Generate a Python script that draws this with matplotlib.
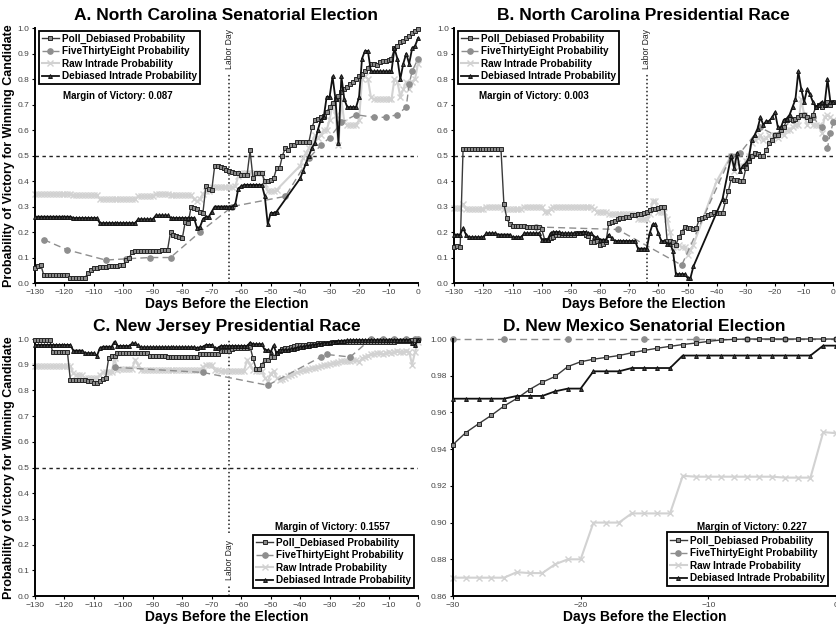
import numpy as np
import matplotlib.pyplot as plt

plt.rcParams['font.family'] = ['Liberation Sans', 'DejaVu Sans']

nan = np.nan
DAYS = np.arange(-130, 1)
D_DAYS = np.arange(-30, 1)
LABOR_DAY = -64

LABELS = ["Poll_Debiased Probability", "FiveThirtyEight Probability",
          "Raw Intrade Probability", "Debiased Intrade Probability"]

# ---- A. North Carolina Senate (daily, -130 .. 0) ----
A_POLL = [0.06, 0.065, 0.07, 0.03, 0.03, 0.03, 0.03, 0.03, 0.03, 0.03,
          0.03, 0.03, 0.02, 0.02, 0.02, 0.02, 0.02, 0.02, 0.04, 0.05,
          0.06, 0.06, 0.062, 0.063, 0.064, 0.065, 0.066, 0.067, 0.068, 0.07,
          0.072, 0.09, 0.10, 0.12, 0.125, 0.125, 0.125, 0.125, 0.125, 0.125,
          0.125, 0.125, 0.125, 0.128, 0.13, 0.13, 0.20, 0.19, 0.185, 0.18,
          0.175, 0.24, 0.235, 0.30, 0.295, 0.29, 0.28, 0.275, 0.38, 0.37,
          0.365, 0.46, 0.46, 0.455, 0.45, 0.445, 0.44, 0.435, 0.43, 0.43,
          0.425, 0.425, 0.425, 0.52, 0.41, 0.43, 0.43, 0.43, 0.40, 0.40,
          0.405, 0.41, 0.45, 0.45, 0.50, 0.53, 0.52, 0.54, 0.54, 0.555,
          0.555, 0.555, 0.555, 0.555, 0.61, 0.64, 0.645, 0.65, 0.655, 0.67,
          0.69, 0.705, 0.72, 0.735, 0.75, 0.76, 0.77, 0.78, 0.79, 0.80,
          0.81, 0.82, 0.83, 0.845, 0.86, 0.86, 0.855, 0.865, 0.87, 0.87,
          0.875, 0.88, 0.92, 0.93, 0.945, 0.95, 0.96, 0.97, 0.98, 0.99,
          0.995]
A_RAW = [0.35, 0.35, 0.35, 0.35, 0.35, 0.35, 0.35, 0.35, 0.35, 0.35,
         0.35, 0.35, 0.35, 0.345, 0.345, 0.345, 0.345, 0.345, 0.345, 0.345,
         0.345, 0.345, 0.33, 0.33, 0.33, 0.33, 0.33, 0.33, 0.33, 0.33,
         0.33, 0.33, 0.33, 0.33, 0.33, 0.34, 0.34, 0.34, 0.34, 0.34,
         0.34, 0.35, 0.35, 0.35, 0.35, 0.35, 0.345, 0.345, 0.345, 0.345,
         0.345, 0.345, 0.345, 0.345, 0.33, 0.32, 0.33, 0.35, 0.36, 0.36,
         0.375, 0.375, 0.375, 0.375, 0.375, 0.375, 0.375, 0.375, 0.38, 0.42,
         0.43, 0.43, 0.43, 0.43, 0.43, 0.43, 0.43, 0.43, 0.39, 0.36,
         0.36, 0.36, 0.365, nan, nan, nan, nan, nan, nan, nan,
         0.46, 0.49, 0.51, 0.53, 0.55, 0.58, 0.57, 0.58, 0.60, 0.60,
         0.64, 0.70, 0.66, 0.54, 0.72, 0.63, 0.62, 0.62, 0.62, 0.62,
         0.64, 0.80, 0.81, 0.80, 0.73, 0.72, 0.72, 0.72, 0.72, 0.72,
         0.72, 0.72, 0.80, 0.79, 0.73, 0.76, 0.79, 0.76, 0.79, 0.80,
         0.86]
A_DEB = [0.26, 0.26, 0.26, 0.26, 0.26, 0.26, 0.26, 0.26, 0.26, 0.26,
         0.26, 0.26, 0.26, 0.255, 0.255, 0.255, 0.255, 0.255, 0.255, 0.255,
         0.255, 0.255, 0.235, 0.235, 0.235, 0.235, 0.235, 0.235, 0.235, 0.235,
         0.235, 0.235, 0.235, 0.235, 0.235, 0.25, 0.25, 0.25, 0.25, 0.25,
         0.25, 0.265, 0.265, 0.265, 0.265, 0.265, 0.255, 0.255, 0.255, 0.255,
         0.255, 0.255, 0.255, 0.255, 0.255, 0.215, 0.22, 0.25, 0.26, 0.26,
         0.28, 0.30, 0.30, 0.30, 0.30, 0.30, 0.30, 0.30, 0.31, 0.37,
         0.38, 0.385, 0.385, 0.385, 0.385, 0.385, 0.385, 0.385, 0.34, 0.23,
         0.275, 0.275, 0.28, nan, nan, nan, nan, nan, nan, nan,
         0.41, 0.44, 0.47, 0.50, 0.53, 0.55, 0.60, 0.64, 0.65, 0.73,
         0.73, 0.81, 0.72, 0.55, 0.81, 0.72, 0.69, 0.69, 0.69, 0.69,
         0.73, 0.88, 0.91, 0.91, 0.83, 0.83, 0.83, 0.83, 0.83, 0.83,
         0.83, 0.83, 0.92, 0.88, 0.80, 0.86, 0.90, 0.86, 0.92, 0.93,
         0.96]
A_538_DAYS = [-127, -119, -106, -99, -91, -84, -74, -63, -45, -37, -33, -30,
              -26, -21, -15, -11, -7, -4, -3, -2, 0]
A_538 = [0.17, 0.13, 0.09, 0.095, 0.10, 0.10, 0.20, 0.30, 0.34, 0.49, 0.54, 0.57,
         0.63, 0.66, 0.65, 0.65, 0.66, 0.69, 0.78, 0.83, 0.88]

# ---- B. North Carolina President ----
B_POLL = [0.14, 0.145, 0.14, 0.525, 0.525, 0.525, 0.525, 0.525, 0.525, 0.525,
          0.525, 0.525, 0.525, 0.525, 0.525, 0.525, 0.525, 0.31, 0.255, 0.23,
          0.225, 0.225, 0.223, 0.222, 0.222, 0.22, 0.22, 0.22, 0.22, 0.22,
          0.21, 0.17, 0.17, 0.175, 0.18, 0.19, 0.19, 0.19, 0.19, 0.19,
          0.19, 0.19, 0.195, 0.195, 0.195, 0.19, 0.185, 0.16, 0.16, 0.165,
          0.15, 0.155, 0.16, 0.235, 0.24, 0.245, 0.25, 0.255, 0.255, 0.26,
          0.26, 0.265, 0.265, 0.27, 0.27, 0.275, 0.28, 0.285, 0.29, 0.29,
          0.295, 0.30, 0.30, 0.165, 0.165, 0.16, 0.15, 0.18, 0.20, 0.22,
          0.215, 0.215, 0.21, 0.215, 0.25, 0.255, 0.26, 0.265, 0.27, 0.28,
          0.275, 0.275, 0.275, 0.32, 0.36, 0.41, 0.405, 0.405, 0.40, 0.40,
          0.45, 0.48, 0.50, 0.51, 0.505, 0.50, 0.50, 0.52, 0.55, 0.56,
          0.58, 0.58, 0.60, 0.61, 0.64, 0.645, 0.64, 0.645, 0.65, 0.66,
          0.66, 0.65, 0.64, 0.66, 0.69, 0.70, 0.69, 0.70, 0.71, 0.70,
          0.71]
B_RAW = [0.295, 0.295, 0.295, 0.31, 0.29, 0.29, 0.29, 0.29, 0.29, 0.29,
         0.29, 0.30, 0.30, 0.30, 0.30, 0.30, 0.30, 0.29, 0.29, 0.29,
         0.29, 0.29, 0.29, 0.29, 0.30, 0.30, 0.30, 0.30, 0.30, 0.30,
         0.30, 0.28, 0.28, 0.29, 0.30, 0.30, 0.30, 0.30, 0.30, 0.30,
         0.30, 0.30, 0.30, 0.30, 0.30, 0.30, 0.30, 0.30, 0.29, 0.28,
         0.28, 0.28, 0.28, 0.27, 0.27, 0.27, 0.27, 0.27, 0.27, 0.27,
         0.27, 0.27, 0.27, 0.25, 0.25, 0.25, 0.25, 0.27, 0.32, 0.32,
         0.28, 0.28, 0.28, 0.25, 0.20, 0.14, 0.14, 0.15, 0.14, 0.14,
         0.11, 0.13, 0.15, nan, nan, nan, nan, nan, nan, nan,
         0.40, nan, nan, nan, nan, 0.50, 0.44, 0.47, 0.46, 0.46,
         0.48, 0.50, 0.55, 0.56, 0.57, 0.58, 0.56, 0.57, 0.58, 0.56,
         0.58, 0.57, 0.59, 0.58, 0.60, 0.60, 0.61, 0.62, 0.62, 0.72,
         0.66, 0.62, 0.64, 0.62, 0.62, 0.62, 0.59, 0.65, 0.66, 0.65,
         0.64]
B_DEB = [0.19, 0.19, 0.19, 0.215, 0.19, 0.18, 0.18, 0.18, 0.18, 0.18,
         0.18, 0.195, 0.195, 0.195, 0.195, 0.19, 0.19, 0.19, 0.19, 0.19,
         0.18, 0.18, 0.18, 0.18, 0.195, 0.195, 0.195, 0.195, 0.195, 0.195,
         0.17, 0.17, 0.17, 0.195, 0.20, 0.20, 0.20, 0.195, 0.195, 0.195,
         0.195, 0.195, 0.195, 0.195, 0.20, 0.20, 0.195, 0.195, 0.18, 0.18,
         0.17, 0.17, 0.17, 0.19, 0.175, 0.165, 0.165, 0.165, 0.165, 0.165,
         0.165, 0.165, 0.165, 0.135, 0.135, 0.135, 0.135, 0.195, 0.23, 0.23,
         0.195, 0.165, 0.165, 0.155, 0.155, 0.125, 0.035, 0.035, 0.035, 0.035,
         0.02, 0.02, 0.065, nan, nan, nan, nan, nan, nan, nan,
         nan, nan, 0.33, nan, nan, 0.50, 0.45, 0.51, 0.44, 0.46,
         0.47, 0.49, 0.56, 0.58, 0.605, 0.65, 0.62, 0.635, 0.635, 0.65,
         0.67, 0.61, 0.61, 0.64, 0.645, 0.66, 0.69, 0.72, 0.83, 0.76,
         0.71, 0.76, 0.74, 0.71, 0.69, 0.70, 0.71, 0.70, 0.80, 0.71,
         0.71]
B_538_DAYS = [-102, -74, -52, -35, -32, -25, -20, -14, -10, -7, -4, -3, -2, -1, 0]
B_538 = [0.22, 0.21, 0.07, 0.50, 0.51, 0.61, 0.58, 0.64, 0.66, 0.65,
         0.61, 0.57, 0.53, 0.59, 0.63]

# ---- C. New Jersey President ----
C_POLL = [0.995, 0.995, 0.995, 0.995, 0.995, 0.995, 0.95, 0.95, 0.95, 0.95,
          0.95, 0.95, 0.84, 0.84, 0.84, 0.84, 0.84, 0.84, 0.835, 0.835,
          0.83, 0.83, 0.835, 0.845, 0.85, 0.925, 0.935, 0.935, 0.945, 0.945,
          0.945, 0.945, 0.945, 0.945, 0.945, 0.945, 0.945, 0.945, 0.945, 0.935,
          0.935, 0.935, 0.935, 0.935, 0.935, 0.93, 0.93, 0.93, 0.93, 0.93,
          0.93, 0.93, 0.93, 0.93, 0.93, 0.93, 0.94, 0.94, 0.94, 0.94,
          0.94, 0.94, 0.94, 0.955, 0.955, 0.955, 0.955, 0.96, 0.965, 0.965,
          0.965, 0.965, 0.965, 0.97, 0.925, 0.885, 0.885, 0.90, 0.92, 0.92,
          0.93, 0.93, 0.945, 0.955, 0.96, 0.965, 0.967, 0.97, 0.972, 0.975,
          0.975, 0.977, 0.978, 0.98, 0.98, 0.982, 0.983, 0.984, 0.985, 0.985,
          0.986, 0.987, 0.988, 0.988, 0.989, 0.99, 0.99, 0.99, 0.99, 0.99,
          0.99, 0.99, 0.99, 0.99, 0.99, 0.99, 0.99, 0.99, 0.99, 0.99,
          0.99, 0.99, 0.99, 0.992, 0.993, 0.993, 0.994, 0.994, 0.995, 0.995,
          0.995]
C_RAW = [0.895, 0.895, 0.895, 0.895, 0.895, 0.895, 0.895, 0.895, 0.895, 0.895,
         0.895, 0.895, 0.895, 0.866, 0.86, 0.86, 0.86, 0.847, 0.847, 0.847,
         0.847, 0.847, 0.86, 0.87, 0.87, 0.87, 0.87, 0.925, 0.88, 0.885,
         0.885, 0.885, 0.885, 0.885, 0.92, 0.90, 0.88, 0.88, 0.88, 0.88,
         0.88, 0.88, 0.88, 0.88, 0.88, 0.88, 0.88, 0.88, 0.88, 0.88,
         0.88, 0.88, 0.88, 0.88, 0.88, 0.878, 0.88, 0.89, 0.90, 0.90,
         0.90, 0.88, 0.88, 0.875, 0.875, 0.875, 0.875, 0.877, 0.877, 0.877,
         0.877, 0.877, 0.92, 0.90, 0.88, 0.875, 0.875, 0.875, 0.85, 0.835,
         0.865, 0.875, 0.85, 0.84, 0.845, 0.85, 0.855, 0.86, 0.865, 0.87,
         0.875, 0.878, 0.88, 0.883, 0.886, 0.889, 0.892, 0.895, 0.898, 0.90,
         0.903, 0.905, 0.905, 0.91, 0.915, 0.915, 0.915, 0.915, 0.92, 0.92,
         0.91, 0.925, 0.93, 0.935, 0.94, 0.94, 0.945, 0.945, 0.94, 0.945,
         0.95, 0.945, 0.95, 0.955, 0.95, 0.95, 0.955, 0.95, 0.90, 0.95,
         0.99]
C_DEB = [0.977, 0.977, 0.977, 0.977, 0.977, 0.977, 0.977, 0.977, 0.977, 0.977,
         0.977, 0.977, 0.977, 0.955, 0.955, 0.955, 0.955, 0.945, 0.945, 0.945,
         0.945, 0.934, 0.964, 0.97, 0.97, 0.97, 0.97, 0.99, 0.973, 0.973,
         0.973, 0.973, 0.973, 0.983, 0.983, 0.975, 0.968, 0.968, 0.968, 0.968,
         0.968, 0.968, 0.968, 0.968, 0.968, 0.968, 0.968, 0.968, 0.968, 0.968,
         0.968, 0.968, 0.968, 0.968, 0.968, 0.965, 0.968, 0.97, 0.977, 0.977,
         0.977, 0.964, 0.964, 0.973, 0.973, 0.973, 0.973, 0.973, 0.973, 0.973,
         0.973, 0.973, 0.973, 0.986, 0.98, 0.98, 0.98, 0.98, 0.957, 0.957,
         0.95, 0.975, 0.944, 0.957, 0.957, 0.957, 0.957, 0.96, 0.963, 0.966,
         0.968, 0.97, 0.972, 0.974, 0.976, 0.978, 0.98, 0.982, 0.984, 0.985,
         0.987, 0.988, 0.99, 0.992, 0.993, 0.994, 0.995, 0.995, 0.996, 0.996,
         0.996, 0.996, 0.996, 0.996, 0.996, 0.996, 0.996, 0.996, 0.996, 0.996,
         0.996, 0.996, 0.996, 0.996, 0.996, 0.996, 0.996, 0.996, 0.983, 0.977,
         0.996]
C_538_DAYS = [-103, -73, -51, -33, -31, -23, -16, -12, -8, -4, -1, 0]
C_538 = [0.89, 0.87, 0.82, 0.93, 0.94, 0.93, 1.0, 1.0, 1.0, 1.0, 1.0, 1.0]

# ---- D. New Mexico Senate (daily, -30 .. 0) ----
D_POLL = [0.9425, 0.949, 0.9538, 0.9584, 0.9635, 0.9676, 0.9725, 0.9765,
          0.9796, 0.985, 0.9876, 0.989, 0.990, 0.991, 0.9925, 0.9938, 0.995,
          0.996, 0.997, 0.9978, 0.9987, 0.9995, 0.9998, 1.0, 1.0, 1.0, 1.0,
          1.0, 1.0, 1.0, 1.0]
D_RAW = [0.87, 0.87, 0.87, 0.87, 0.87, 0.873, 0.8725, 0.8725, 0.8773, 0.88,
         0.88, 0.90, 0.90, 0.90, 0.905, 0.905, 0.905, 0.905, 0.9255, 0.925,
         0.925, 0.925, 0.925, 0.925, 0.925, 0.925, 0.9245, 0.9245, 0.9245,
         0.9493, 0.9487]
D_DEB = [0.9675, 0.9675, 0.9675, 0.9675, 0.9675, 0.969, 0.969, 0.969, 0.9715,
         0.973, 0.973, 0.9824, 0.9824, 0.9824, 0.9842, 0.9842, 0.9842, 0.9842,
         0.991, 0.991, 0.991, 0.991, 0.991, 0.991, 0.991, 0.991, 0.991, 0.991,
         0.991, 0.9964, 0.9964]
D_538_DAYS = [-30, -26, -21, -15, -11, -7, -4, 0]
D_538 = [1.0, 1.0, 1.0, 1.0, 1.0, 1.0, 1.0, 1.0]

STYLES = [
    dict(color="#3a3a3a", lw=1.0, marker="s", ms=2.8, mfc="#8a8a8a",
         mec="#262626", mew=0.7, zorder=3),
    dict(color="#8e8e8e", lw=1.0, ls=(0, (5, 3)), marker="o", ms=3.8,
         mfc="#8e8e8e", mec="#8e8e8e", zorder=2),
    dict(color="#d2d2d2", lw=1.5, marker="x", ms=3.8, mew=1.0, zorder=1),
    dict(color="#111111", lw=1.3, marker="^", ms=2.8, mfc="#444444",
         mec="#111111", mew=0.7, zorder=4),
]


def draw(ax, x, y, i):
    x = np.asarray(x, dtype=float)
    y = np.asarray(y, dtype=float)
    ok = ~np.isnan(y)
    ax.plot(x[ok], y[ok], label=LABELS[i], clip_on=False, **STYLES[i])


def style_axes(ax, title, xticks, yticks, yfmt):
    ax.set_title(title, fontsize=12.5, fontweight="bold", pad=6)
    ax.spines["top"].set_visible(False)
    ax.spines["right"].set_visible(False)
    for s in ("left", "bottom"):
        ax.spines[s].set_linewidth(1.4)
    ax.set_xlim(xticks[0], xticks[-1])
    ax.set_ylim(yticks[0], yticks[-1])
    ax.set_xticks(xticks)
    ax.set_yticks(yticks)
    ax.set_yticklabels([yfmt.format(v) for v in yticks])
    ax.tick_params(labelsize=6, labelcolor="#444444", length=2.5, width=0.8, pad=1.5)
    ax.set_xlabel("Days Before the Election", fontsize=10, fontweight="bold", labelpad=1)


def legend(ax, **kw):
    leg = ax.legend(prop=dict(size=7.2, weight="bold"), frameon=True, fancybox=False,
                    framealpha=1, edgecolor="black", borderpad=0.3,
                    labelspacing=0.25, handlelength=1.7, handletextpad=0.3,
                    borderaxespad=0, **kw)
    leg.get_frame().set_linewidth(1.3)
    leg.set_zorder(10)


fig = plt.figure(figsize=(8.37, 6.27), dpi=100)
axA = fig.add_axes([0.0418, 0.5486, 0.4576, 0.4067])
axB = fig.add_axes([0.5428, 0.5486, 0.4528, 0.4067])
axC = fig.add_axes([0.0418, 0.0494, 0.4576, 0.4099])
axD = fig.add_axes([0.5412, 0.0494, 0.4576, 0.4099])

long_xt = np.arange(-130, 1, 10)
prob_yt = np.round(np.arange(0, 1.01, 0.1), 2)
dot = dict(color="#222222", lw=1.1, ls=(0, (1, 1.6)), zorder=0)
dash = dict(color="#222222", lw=1.0, ls=(0, (2.5, 2.5)), zorder=0)
ytxt = "Probability of Victory for Winning Candidate"

panels = [
    (axA, "A. North Carolina Senatorial Election", A_POLL, (A_538_DAYS, A_538), A_RAW, A_DEB),
    (axB, "B. North Carolina Presidential Race", B_POLL, (B_538_DAYS, B_538), B_RAW, B_DEB),
    (axC, "C. New Jersey Presidential Race", C_POLL, (C_538_DAYS, C_538), C_RAW, C_DEB),
]
for ax, title, poll, fte, raw, deb in panels:
    draw(ax, DAYS, poll, 0)
    draw(ax, fte[0], fte[1], 1)
    draw(ax, DAYS, raw, 2)
    draw(ax, DAYS, deb, 3)
    style_axes(ax, title, long_xt, prob_yt, "{:.1f}")
    ax.axhline(0.5, **dash)

for ax in (axA, axB):
    ax.axvline(LABOR_DAY, ymin=0, ymax=0.82, **dot)
    ax.text(LABOR_DAY, 0.995, "Labor Day", rotation=90, ha="center", va="top",
            fontsize=6.2, color="#222222")
    legend(ax, loc="upper left", bbox_to_anchor=(0.01, 0.99))

axA.text(0.217, 0.733, "Margin of Victory: 0.087", transform=axA.transAxes,
         ha="center", va="center", fontsize=7, fontweight="bold")
axB.text(0.21, 0.733, "Margin of Victory: 0.003", transform=axB.transAxes,
         ha="center", va="center", fontsize=7, fontweight="bold")

axC.axvline(LABOR_DAY, ymin=0, ymax=0.04, **dot)
axC.axvline(LABOR_DAY, ymin=0.245, ymax=1, **dot)
axC.text(LABOR_DAY, 0.14, "Labor Day", rotation=90, ha="center", va="center",
         fontsize=6.2, color="#222222")
legend(axC, loc="lower right", bbox_to_anchor=(0.99, 0.03))
axC.text(0.778, 0.268, "Margin of Victory: 0.1557", transform=axC.transAxes,
         ha="center", va="center", fontsize=7, fontweight="bold")

# D uses a short window and a zoomed probability scale
draw(axD, D_DAYS, D_POLL, 0)
draw(axD, D_538_DAYS, D_538, 1)
draw(axD, D_DAYS, D_RAW, 2)
draw(axD, D_DAYS, D_DEB, 3)
style_axes(axD, "D. New Mexico Senatorial Election", np.arange(-30, 1, 10),
           np.round(np.arange(0.86, 1.001, 0.02), 2), "{:.2f}")
legend(axD, loc="lower right", bbox_to_anchor=(0.979, 0.039))
axD.text(0.78, 0.268, "Margin of Victory: 0.227", transform=axD.transAxes,
         ha="center", va="center", fontsize=7, fontweight="bold")

for ax in (axA, axC):
    ax.set_ylabel(ytxt, fontsize=9, fontweight="bold", labelpad=2)

fig.savefig("out.png", dpi=100)
